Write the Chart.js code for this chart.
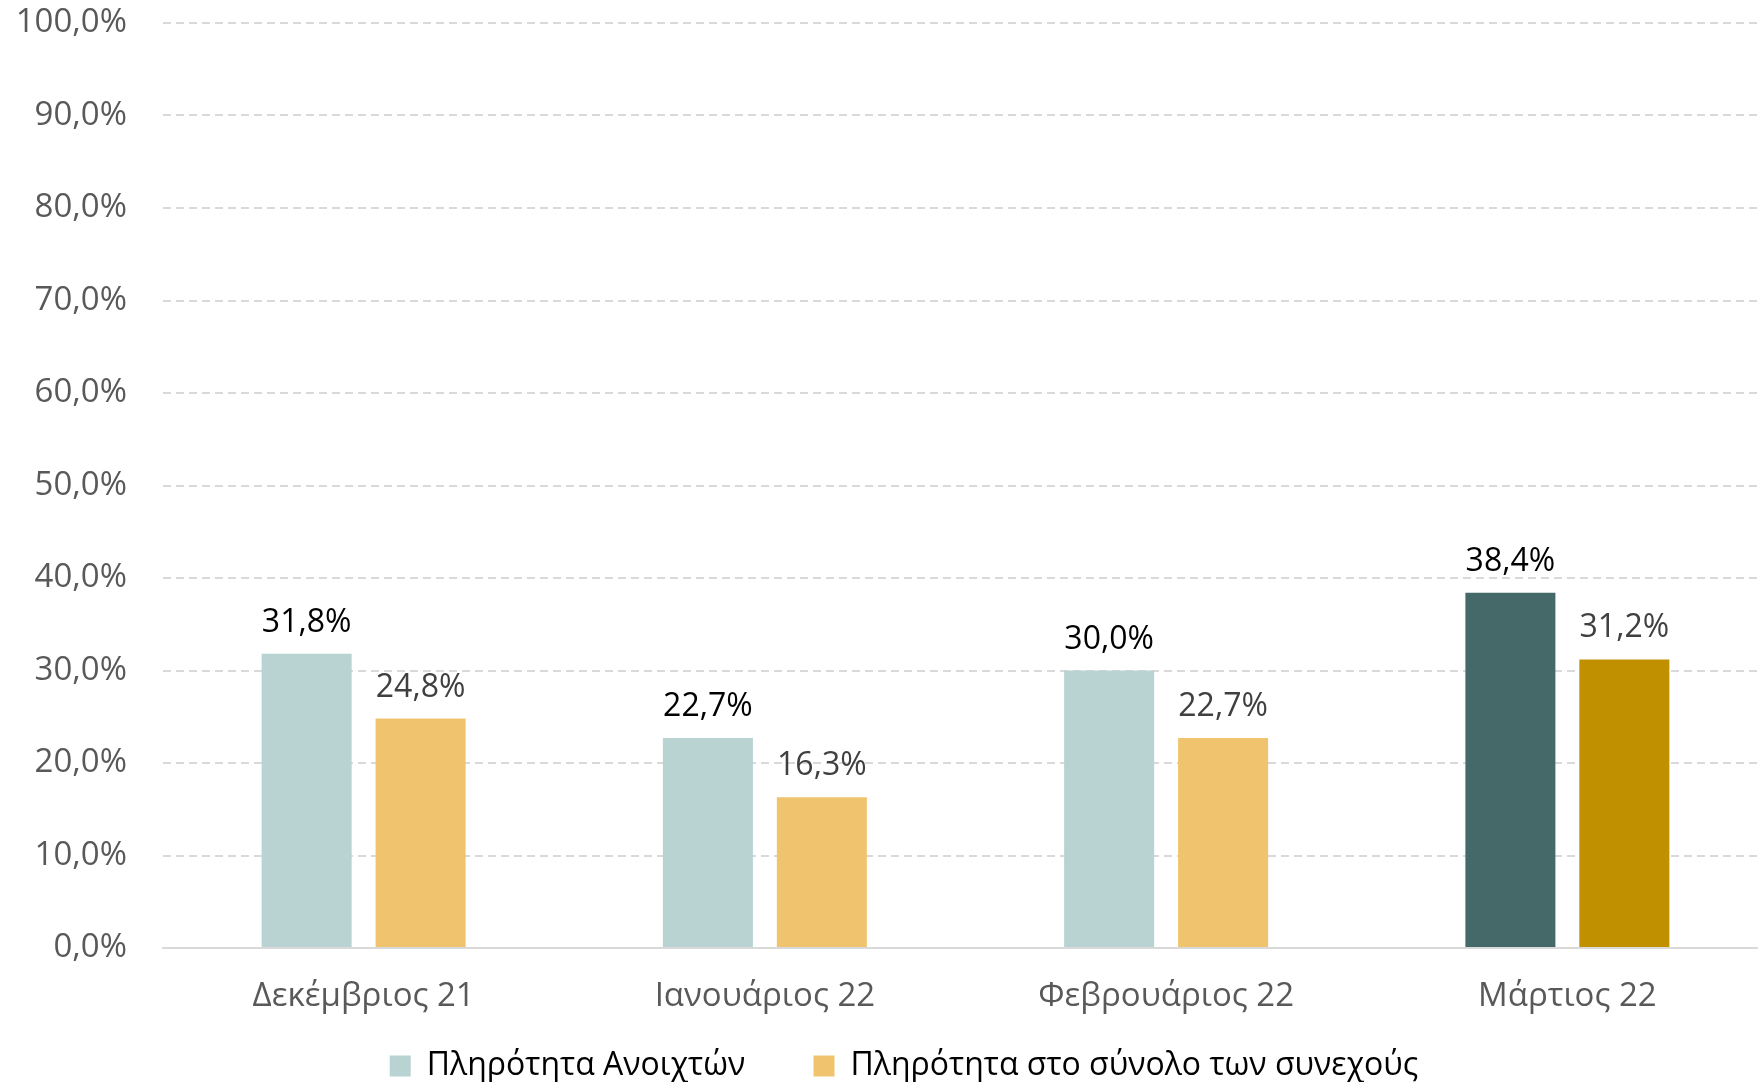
<!DOCTYPE html>
<html>
<head>
<meta charset="utf-8">
<script src="https://cdn.jsdelivr.net/npm/chart.js@4.4.0/dist/chart.umd.min.js"></script>
<style>
    html, body { margin: 0; padding: 0; background: #ffffff; }
    #wrap { width: 1758px; height: 1082px; position: relative; }
</style>
</head>
<body>
<div id="wrap"><canvas id="occupancyChart"></canvas></div>
<script>
    // data
    const months = ['Δεκέμβριος 21', 'Ιανουάριος 22', 'Φεβρουάριος 22', 'Μάρτιος 22'];
    const seriesNames = ['Πληρότητα Ανοιχτών', 'Πληρότητα στο σύνολο των συνεχούς'];
    const openValues = [31.8, 22.7, 30.0, 38.4];
    const totalValues = [24.8, 16.3, 22.7, 31.2];
    const yTicks = [0, 10, 20, 30, 40, 50, 60, 70, 80, 90, 100];

    const openColors = ['#B9D2D2', '#B9D2D2', '#B9D2D2', '#456969'];
    const totalColors = ['#F0C46E', '#F0C46E', '#F0C46E', '#C09000'];

    function pct(v) {
        return v.toFixed(1).replace('.', ',') + '%';
    }

    // value labels above every bar
    const barLabels = {
        id: 'barLabels',
        afterDatasetsDraw: function (chart) {
            const ctx = chart.ctx;
            ctx.save();
            ctx.font = '32px "Open Sans"';
            ctx.textAlign = 'center';
            ctx.textBaseline = 'alphabetic';
            chart.data.datasets.forEach(function (ds, i) {
                const meta = chart.getDatasetMeta(i);
                ctx.fillStyle = i === 0 ? '#000000' : '#404040';
                meta.data.forEach(function (bar, j) {
                    ctx.fillText(pct(ds.data[j]), bar.x, bar.y - 22);
                });
            });
            ctx.restore();
        }
    };

    // small layout tweaks: legend a bit right/down, category axis runs a bit past the edge
    const layoutNudge = {
        id: 'layoutNudge',
        afterLayout: function (chart) {
            const lg = chart.legend;
            if (lg) {
                lg.left += 25; lg.right += 25;
                lg.top += 10; lg.bottom += 10;
            }
            const x = chart.scales.x;
            x.right += 10;
            x.width += 10;
            x.configure();
        }
    };

    const ctx = document.getElementById('occupancyChart').getContext('2d');
    new Chart(ctx, {
        type: 'bar',
        data: {
            labels: months,
            datasets: [{
                label: seriesNames[0],
                data: openValues,
                backgroundColor: openColors
            }, {
                label: seriesNames[1],
                data: totalValues,
                backgroundColor: totalColors
            }]
        },
        options: {
            responsive: true,
            maintainAspectRatio: false,
            devicePixelRatio: 1,
            animation: false,
            categoryPercentage: 0.568,
            barPercentage: 0.79,
            layout: { padding: { top: 23, right: 0, left: 0, bottom: 0 } },
            plugins: {
                tooltip: { enabled: false },
                legend: {
                    position: 'bottom',
                    labels: {
                        font: { family: 'Open Sans', size: 32 },
                        color: '#595959',
                        boxWidth: 21,
                        boxHeight: 21,
                        padding: 10,
                        generateLabels: function (chart) {
                            // trailing spaces widen the gap between the two entries
                            return [
                                { text: seriesNames[0] + '       ', fillStyle: openColors[0], strokeStyle: openColors[0], lineWidth: 0, datasetIndex: 0 },
                                { text: seriesNames[1], fillStyle: totalColors[0], strokeStyle: totalColors[0], lineWidth: 0, datasetIndex: 1 }
                            ];
                        }
                    }
                }
            },
            scales: {
                x: {
                    afterFit: function (scale) { scale.height = 82; },
                    grid: { display: false, drawTicks: false },
                    border: { display: true, color: '#D9D9D9', width: 2 },
                    ticks: {
                        font: { family: 'Open Sans', size: 33 },
                        color: '#595959',
                        padding: 29
                    }
                },
                y: {
                    min: 0,
                    max: 100,
                    afterFit: function (scale) {
                        scale.width = 163;
                        scale.paddingTop = 0;
                        scale.paddingBottom = 0;
                    },
                    afterBuildTicks: function (scale) {
                        scale.ticks = yTicks.map(v => ({ value: v }));
                    },
                    grid: { color: '#D9D9D9', lineWidth: 2, drawTicks: false },
                    border: { display: false, dash: [8, 5] },
                    ticks: {
                        font: { family: 'Open Sans', size: 33 },
                        color: '#595959',
                        padding: 36,
                        callback: function (v) { return pct(v); }
                    }
                }
            }
        },
        plugins: [barLabels, layoutNudge]
    });
</script>
</body>
</html>
